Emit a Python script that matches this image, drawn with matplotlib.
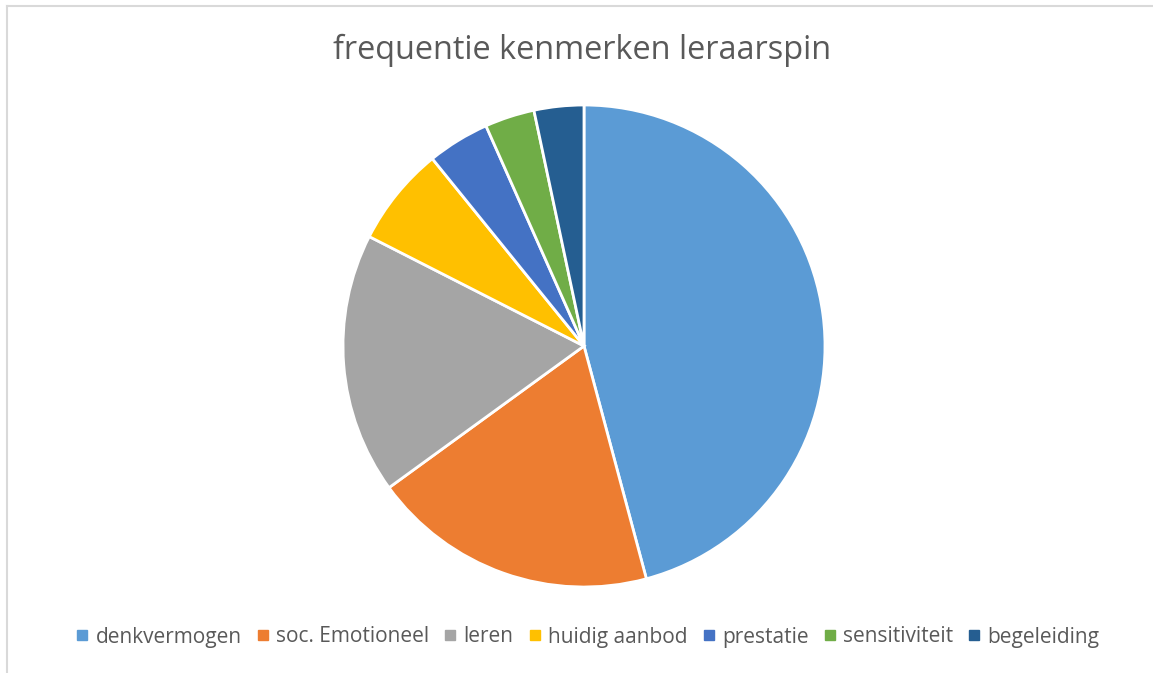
import matplotlib
matplotlib.use("Agg")
import matplotlib.pyplot as plt
from matplotlib.lines import Line2D

categories = ["denkvermogen", "soc. Emotioneel", "leren", "huidig aanbod",
              "prestatie", "sensitiviteit", "begeleiding"]
counts = [55, 23, 21, 8, 5, 4, 4]
colors = ["#5B9BD5", "#ED7D31", "#A5A5A5", "#FFC000", "#4472C4", "#70AD47", "#255E91"]
title = "frequentie kenmerken leraarspin"

W, H = 1153, 673
fig = plt.figure(figsize=(W / 100, H / 100), dpi=100)
fig.patch.set_facecolor("white")

# chart area border (left and top edges)
fig.add_artist(Line2D([6.5 / W, 6.5 / W], [0, 1 - 5.5 / H], color="#D9D9D9", lw=1.5))
fig.add_artist(Line2D([6.5 / W, 1], [1 - 5.5 / H, 1 - 5.5 / H], color="#D9D9D9", lw=1.5))

# pie centred at (584, 346) px, radius 240 px
cx, cy, r = 584, 346, 241
ax = fig.add_axes([(cx - r) / W, 1 - (cy + r) / H, 2 * r / W, 2 * r / H])
ax.pie(counts, colors=colors, startangle=90, counterclock=False,
       wedgeprops=dict(edgecolor="white", linewidth=2), radius=1.0)
ax.set_xlim(-1, 1)
ax.set_ylim(-1, 1)
ax.set_aspect("equal")
ax.axis("off")

fig.text(582 / W, 1 - 50 / H, title, ha="center", va="center",
         fontsize=23.4, color="#595959", family="Open Sans")

handles = [Line2D([], [], marker="s", linestyle="none", markersize=6.5,
                  markerfacecolor=c, markeredgecolor=c) for c in colors]
fig.legend(handles, categories, loc="center", bbox_to_anchor=(588 / W, 1 - 637 / H),
           ncol=7, frameon=False, handlelength=0.55, handletextpad=0.35,
           columnspacing=0.75, prop=dict(family="Open Sans", size=15),
           labelcolor="#595959")

fig.savefig("out.png", dpi=100, facecolor="white")
